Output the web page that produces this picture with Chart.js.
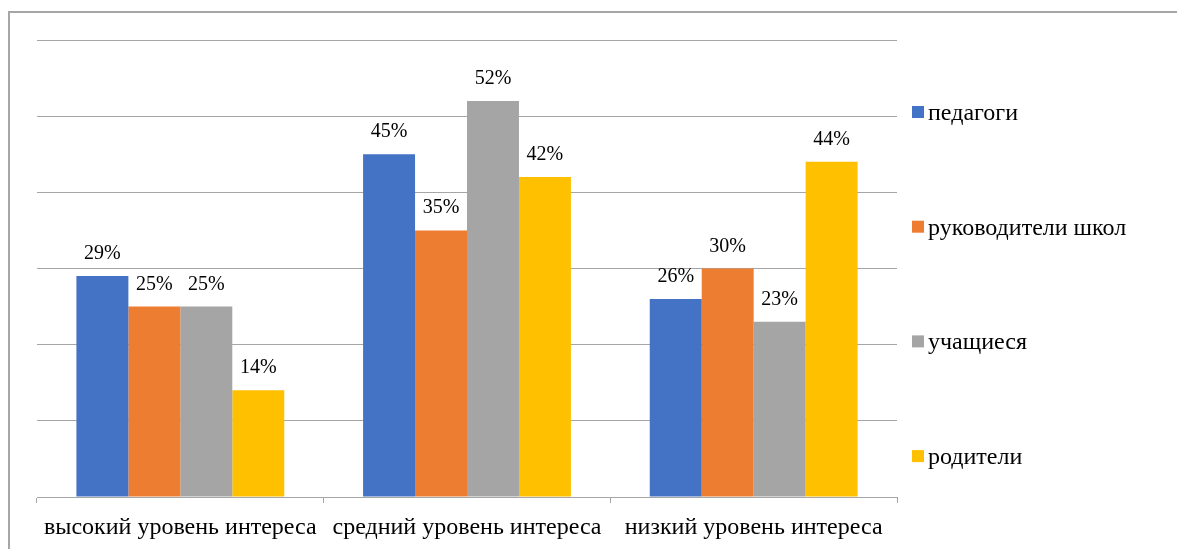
<!DOCTYPE html>
<html><head><meta charset="utf-8">
<script src="https://cdn.jsdelivr.net/npm/chart.js@4"></script>
<style>html,body{margin:0;padding:0;background:#fff}#wrap{width:1177px;height:549px;position:relative}</style>
</head><body><div id="wrap"><canvas id="c" width="1177" height="549"></canvas></div>
<script>
const categories = ["высокий уровень интереса", "средний уровень интереса", "низкий уровень интереса"];
const seriesNames = ["педагоги", "руководители школ", "учащиеся", "родители"];
const pedagogi = [29, 45, 26];
const rukovoditeli = [25, 35, 30];
const uchashchiesya = [25, 52, 23];
const roditeli = [14, 42, 44];
const yTicks = [0, 10, 20, 30, 40, 50, 60];
const colors = ["#4472C4", "#ED7D31", "#A5A5A5", "#FFC000"];
const values = [pedagogi, rukovoditeli, uchashchiesya, roditeli];
const FONT = "'Liberation Serif', 'Times New Roman', serif";

const framePlugin = {
  id: 'frame',
  beforeDraw(chart) {
    const ctx = chart.ctx;
    ctx.save();
    ctx.fillStyle = '#fff';
    ctx.fillRect(0, 0, chart.width, chart.height);
    ctx.strokeStyle = '#a6a6a6';
    ctx.lineWidth = 2;
    ctx.beginPath();
    ctx.moveTo(9, chart.height);
    ctx.lineTo(9, 12);
    ctx.lineTo(chart.width, 12);
    ctx.stroke();
    ctx.restore();
  }
};
const labelPlugin = {
  id: 'labels',
  afterDatasetsDraw(chart) {
    const ctx = chart.ctx;
    ctx.save();
    ctx.font = "20px " + FONT;
    ctx.fillStyle = '#000';
    ctx.textAlign = 'center';
    ctx.textBaseline = 'alphabetic';
    chart.data.datasets.forEach((ds, i) => {
      chart.getDatasetMeta(i).data.forEach((bar, j) => {
        ctx.fillText(ds.data[j] + '%', bar.x, bar.y - 17);
      });
    });
    ctx.restore();
  }
};
const legendPlugin = {
  id: 'customLegend',
  afterDraw(chart) {
    const ctx = chart.ctx;
    ctx.save();
    ctx.font = "24px " + FONT;
    ctx.textBaseline = 'alphabetic';
    ctx.textAlign = 'left';
    chart.data.datasets.forEach((ds, i) => {
      const y = 106 + i * 114.7;
      ctx.fillStyle = ds.backgroundColor;
      ctx.fillRect(912, y, 12, 12);
      ctx.fillStyle = '#000';
      ctx.fillText(ds.label, 928, y + 14);
    });
    ctx.restore();
  }
};

new Chart(document.getElementById('c'), {
  type: 'bar',
  data: {
    labels: categories,
    datasets: seriesNames.map((n, i) => ({
      label: n, data: values[i], backgroundColor: colors[i], borderWidth: 0,
      categoryPercentage: 0.725, barPercentage: 1.0
    }))
  },
  options: {
    responsive: false,
    animation: false,
    devicePixelRatio: 1,
    layout: { padding: { left: 37, right: 280, top: 40, bottom: 0 } },
    plugins: { legend: { display: false }, tooltip: { enabled: false } },
    scales: {
      y: {
        min: 0, max: 60,
        afterBuildTicks: (s) => { s.ticks = yTicks.map(v => ({ value: v })); },
        ticks: { display: false },
        grid: { color: '#a6a6a6', lineWidth: 1, drawTicks: false },
        border: { display: false }
      },
      x: {
        afterFit: (s) => { s.height = 52; },
        grid: { offset: true, drawOnChartArea: false, drawTicks: true, tickLength: 6, color: '#a6a6a6' },
        border: { display: true, color: '#a6a6a6', width: 1 },
        ticks: { color: '#000', font: { family: FONT, size: 24, lineHeight: 1.1 }, padding: 12, maxRotation: 0, autoSkip: false }
      }
    }
  },
  plugins: [framePlugin, labelPlugin, legendPlugin]
});
</script></body></html>
